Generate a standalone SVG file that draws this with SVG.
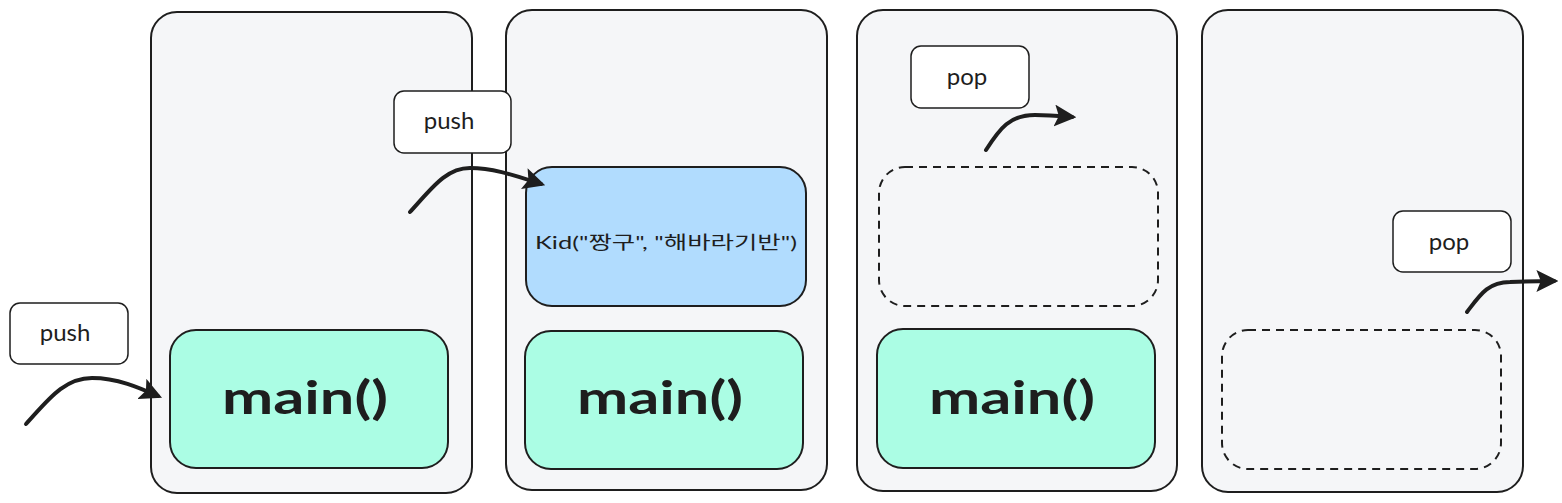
<svg xmlns="http://www.w3.org/2000/svg" width="1562" height="503" viewBox="0 0 1562 503">
<style>
.panel{fill:#f5f6f8;stroke:#1e1e1e;stroke-width:2}
.main{fill:#abfde4;stroke:#1e1e1e;stroke-width:2}
.kid{fill:#b1dcfe;stroke:#1e1e1e;stroke-width:2}
.ghost{fill:none;stroke:#1e1e1e;stroke-width:2;stroke-dasharray:8 6}
.lbl{fill:#ffffff;stroke:#1e1e1e;stroke-width:1.5}
.conn{fill:none;stroke:#1e1e1e;stroke-width:4;stroke-linecap:round}
.mt{font-family:"Lato","Liberation Sans",sans-serif;font-weight:bold;font-size:46px;fill:#1e1e1e;text-anchor:middle}
.lt{font-family:"Lato","Liberation Sans",sans-serif;font-size:24px;fill:#1e1e1e;text-anchor:middle}
.kt{font-family:"Lato","Noto Sans CJK KR",sans-serif;font-size:18px;fill:#1e1e1e;text-anchor:middle}
</style>
<defs>
<marker id="ah" viewBox="0 0 10 10" refX="8" refY="5" markerWidth="5.5" markerHeight="5.5" orient="auto" markerUnits="strokeWidth">
<path d="M0,0 L10,5 L0,10 L2,5 Z" fill="#1e1e1e"/>
</marker>
</defs>
<rect width="1562" height="503" fill="#ffffff"/>
<g id="panel1"><rect class="panel" x="151" y="12" width="321" height="481" rx="26"/></g>
<g id="panel2"><rect class="panel" x="506" y="10" width="321" height="480" rx="26"/></g>
<g id="panel3"><rect class="panel" x="857" y="10" width="320" height="481" rx="26"/></g>
<g id="panel4"><rect class="panel" x="1202" y="10" width="321" height="482" rx="26"/></g>
<g id="main1"><rect class="main" x="170" y="330" width="278" height="138" rx="26"/><text class="mt" x="305" y="414" textLength="166" lengthAdjust="spacingAndGlyphs">main()</text></g>
<g id="main2"><rect class="main" x="525" y="331" width="278" height="138" rx="26"/><text class="mt" x="660" y="414" textLength="166" lengthAdjust="spacingAndGlyphs">main()</text></g>
<g id="main3"><rect class="main" x="877" y="329" width="278" height="139" rx="26"/><text class="mt" x="1012" y="414" textLength="166" lengthAdjust="spacingAndGlyphs">main()</text></g>
<g id="kid"><rect class="kid" x="526" y="167" width="280" height="139" rx="26"/><text class="kt" x="666" y="249" textLength="262" lengthAdjust="spacingAndGlyphs">Kid("짱구", "해바라기반")</text></g>
<g id="ghost1"><rect class="ghost" x="879" y="167" width="279" height="139" rx="26"/></g>
<g id="ghost2"><rect class="ghost" x="1222" y="330" width="279" height="139" rx="26"/></g>
<g id="push1"><rect class="lbl" x="10" y="303" width="118" height="61" rx="10"/><text class="lt" x="65" y="341">push</text></g>
<g id="push2"><rect class="lbl" x="394" y="91" width="117" height="62" rx="10"/><text class="lt" x="449" y="129">push</text></g>
<g id="pop1"><rect class="lbl" x="911" y="46" width="118" height="62" rx="10"/><text class="lt" x="967" y="85">pop</text></g>
<g id="pop2"><rect class="lbl" x="1393" y="211" width="118" height="61" rx="10"/><text class="lt" x="1449" y="250">pop</text></g>
<g id="connectors">
<path class="conn" marker-end="url(#ah)" d="M26,424 C48,400 64,378 92,378 C118,378 140,388 158,396"/>
<path class="conn" marker-end="url(#ah)" d="M410,212 C432,188 446,168 470,168 C494,168 516,176 541,184"/>
<path class="conn" marker-end="url(#ah)" d="M986,150 C1000,128 1010,115 1035,115 C1050,115 1060,116 1072,117"/>
<path class="conn" marker-end="url(#ah)" d="M1467,312 C1480,295 1488,282 1510,282 C1530,281 1542,281 1554,281"/>
</g>
</svg>
